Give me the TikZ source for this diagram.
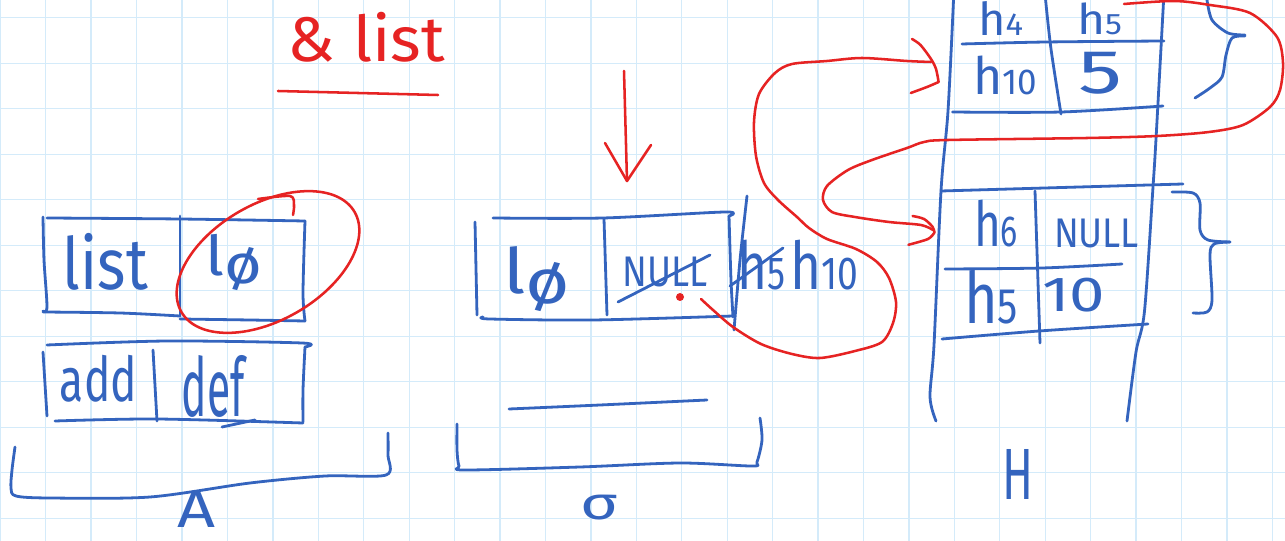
\documentclass[tikz,border=0pt]{standalone}
\usepackage{fontspec}
\setmainfont{Fira Sans}
\usepackage{graphicx}
\definecolor{pen}{RGB}{52,100,190}
\definecolor{ink}{RGB}{230,35,35}
\definecolor{gridc}{RGB}{212,235,250}
\newcommand\handtxt[3]{\resizebox*{\dimexpr#1pt*3/4\relax}{\dimexpr#2pt*3/4\relax}{#3}}
\begin{document}
\begin{tikzpicture}[x=0.75pt,y=-0.75pt,line cap=round,line join=round,
  bl/.style={draw=pen,line width=2.1pt},
  rd/.style={draw=ink,line width=1.9pt},
  bt/.style={inner sep=0pt,outer sep=0pt,text=pen},
  rt/.style={inner sep=0pt,outer sep=0pt,text=ink}]
\useasboundingbox (0,0) rectangle (1285,541);
\fill[white] (0,0) rectangle (1285,541);
% grid
\foreach \i in {0,...,28} \draw[gridc,line width=1pt] ({0.3+\i*45.43},0) -- ({0.3+\i*45.43},541);
\foreach \j in {0,...,11} \draw[gridc,line width=1pt] (0,{17.7+\j*45.5}) -- (1285,{17.7+\j*45.5});

% ---------- texts ----------
\node[rt] (title) at (366.5,37) {\handtxt{157}{50}{\& list}};
\node[bt] (tlist) at (105.5,261.5) {\handtxt{85}{57}{list}};
\node[bt] (tl0a) at (233.5,262.5) {\handtxt{57}{57}{l\raisebox{-0.3ex}{ø}}};
\node[bt] (tadd) at (98.5,378.5) {\handtxt{77}{47}{add}};
\node[bt] (tdef) at (213.5,386) {\handtxt{63}{62}{def}};
\node[bt] (tl0s) at (536.5,279.5) {\handtxt{67}{65}{l\raisebox{-0.3ex}{ø}}};
\node[bt] (tnull) at (665,272) {\handtxt{85}{30}{NULL}};
\node[bt] (th5) at (761,265) {\handtxt{48}{50}{h{\scriptsize 5}}};
\node[bt] (th10) at (824,265) {\handtxt{68}{50}{h{\scriptsize 10}}};
\node[bt] (tA) at (197,509) {\handtxt{38}{36}{A}};
\node[bt] (tsig) at (599,508) {\handtxt{38}{25}{σ}};
\node[bt] (tH) at (1017.5,474) {\handtxt{31}{50}{H}};
\node[bt] (th4) at (1000.5,19) {\handtxt{45}{34}{h{\scriptsize 4}}};
\node[bt] (th5t) at (1099.5,19) {\handtxt{45}{32}{h{\scriptsize 5}}};
\node[bt] (th10b) at (1005,75) {\handtxt{64}{39}{h{\scriptsize 10}}};
\node[bt] (t5) at (1100,73) {\handtxt{44}{42}{5}};
\node[bt] (th6) at (996,224) {\handtxt{44}{47}{h{\scriptsize 6}}};
\node[bt] (tnull2) at (1096.5,233) {\handtxt{85}{29}{NULL}};
\node[bt] (th5c) at (991,297) {\handtxt{54}{54}{h{\scriptsize 5}}};
\node[bt] (t10) at (1073.5,295) {\handtxt{63}{34}{10}};

% ---------- structure A ----------
\draw[bl] plot[smooth] coordinates {(43,217) (44,260) (47,307) (43,311)};
\draw[bl] plot[smooth] coordinates {(47,218) (180,219) (305,221)};
\draw[bl] plot[smooth] coordinates {(305,221) (303,293) (305,321)};
\draw[bl] plot[smooth] coordinates {(43,312) (120,313) (180,316)};
\draw[bl] plot[smooth] coordinates {(180,319) (250,320) (305,321)};
\draw[bl] (180,216) -- (180,316);
\draw[bl] plot[smooth] coordinates {(47,345) (167,341) (302,343) (305,347)};
\draw[bl] plot[smooth] coordinates {(305,347) (303,390) (303,422)};
\draw[bl] plot[smooth] coordinates {(55,421) (157,419) (303,423)};
\draw[bl] (43,352) -- (47,416);
\draw[bl] (153,350) -- (157,421);
\draw[bl] (222,427) -- (255,420);
\draw[bl] plot[smooth,tension=0.5] coordinates {(15,447) (12,470) (11,488) (16,496) (50,498) (150,497) (250,483) (325,476) (386,475) (388,455) (388,433)};

% ---------- structure sigma ----------
\draw[bl] plot[smooth] coordinates {(493,218) (603,218) (725,212) (729,216)};
\draw[bl] plot[smooth] coordinates {(729,216) (731,280) (733,317)};
\draw[bl] (475,222) -- (477,315);
\draw[bl] plot[smooth] coordinates {(483,317) (490,319) (593,320) (733,316)};
\draw[bl] (604,219) -- (607,315);
\draw[bl] plot[smooth] coordinates {(747,196) (740,260) (734,330)};
\draw[bl] (730,286) -- (783,248);
\draw[bl] (618,302) -- (710,255);
\draw[bl] plot[smooth] coordinates {(509,409) (600,405) (707,400)};
\draw[bl] plot[smooth,tension=0.5] coordinates {(457,424) (457,450) (459,466) (465,470) (580,467) (680,463) (752,466) (757,462) (762,440) (760,418)};

% ---------- structure H ----------
\draw[bl] plot[smooth] coordinates {(953.5,0) (948,111) (941,191) (934,345) (930,397) (936,421)};
\draw[bl] plot[smooth] coordinates {(1163.6,0) (1156,139) (1153,187) (1144.5,311) (1136,352) (1127,421)};
\draw[bl] plot[smooth] coordinates {(962,44) (1046,42) (1164,41)};
\draw[bl] plot[smooth] coordinates {(1045.6,0) (1051,49) (1061,114)};
\draw[bl] plot[smooth] coordinates {(952.5,112) (1061,112) (1163,106)};
\draw[bl] (941,191) -- (1183,184);
\draw[bl] (1035,191) -- (1040,343);
\draw[bl] plot[smooth] coordinates {(945,269) (1042,268) (1122,264)};
\draw[bl] plot[smooth] coordinates {(942,339) (1039,331) (1148,324)};
% braces
\draw[bl] plot[smooth] coordinates {(1207,0) (1212,20) (1228,33) (1245,35)};
\draw[bl] plot[smooth] coordinates {(1245,36) (1232,38) (1226,55) (1222,77) (1210,88) (1195,98)};
\draw[bl] plot[smooth] coordinates {(1172,192) (1193,193) (1200,203) (1200,230) (1208,240) (1230,242)};
\draw[bl] plot[smooth] coordinates {(1230,242) (1214,244) (1210,255) (1212,300) (1207,312) (1193,313)};

% ---------- red ----------
\draw[rd] (278,91) -- (438,95);
\draw[rd,rotate around={30:(268,262)}] (268,262) ellipse (100 and 58);
\draw[rd] plot[smooth] coordinates {(258,199) (290,196) (294,205) (293,215)};
\coordinate (atop) at (624,71);
\coordinate (abot) at (627,181);
\draw[rd] (atop) -- (abot);
\draw[rd] (605,143) -- (abot) -- (651,145);
\node[circle,fill=ink,inner sep=0pt,minimum size=6pt] (dot) at (680,297) {};
\coordinate (p1s) at (701,299);
\coordinate (tip1) at (938.6,82);
\draw[rd] plot[smooth] coordinates {(p1s) (713,310) (733,327) (761,344) (792,354) (820,358) (855,351) (882,342) (893,323) (896,302) (889,278) (877,262) (856,249) (827,239) (809,228) (797,217) (778,200) (764,183) (756,156) (754,122) (759,94) (775,73) (792,64) (827,61) (862,58) (907,61) (931,62)};
\draw[rd] plot[smooth] coordinates {(912,39) (920.5,45) (931,59) (936,69) (tip1)};
\draw[rd] plot[smooth] coordinates {(tip1) (927.5,86.8) (910.8,93)};
\coordinate (p2s) at (1124,4);
\coordinate (tip2) at (934.4,232.6);
\draw[rd] plot[smooth] coordinates {(p2s) (1174,1) (1210,5) (1250,13) (1277,37) (1283,63) (1280,90) (1270,107) (1243,125) (1209,132) (1157,136) (1087,138) (948,140) (924,142) (907,148) (872,160) (848,170) (827,186) (823,200) (832,212) (855,217) (889,222) (921,225) (933,230)};
\draw[rd] plot[smooth] coordinates {(912.6,216) (924,219) (932.7,227) (tip2)};
\draw[rd] plot[smooth] coordinates {(tip2) (928,239) (908.4,244.8)};
\end{tikzpicture}
\end{document}
